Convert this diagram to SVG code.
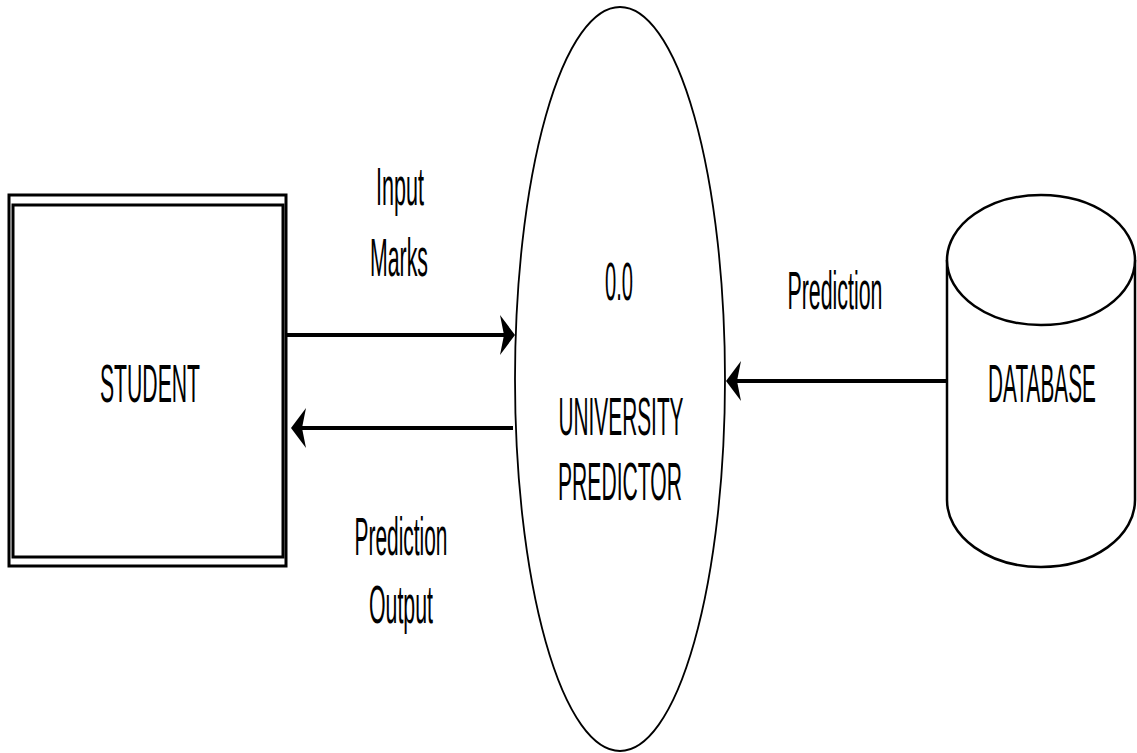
<svg xmlns="http://www.w3.org/2000/svg" width="1137" height="753" viewBox="0 0 1137 753">
<style>
text{font-family:"Liberation Sans",Arial,sans-serif;font-size:54px;fill:#000;text-anchor:middle}
.flow{stroke:#000;stroke-width:4;fill:none}
.shape{fill:#fff;stroke:#000}
</style>
<defs>
<marker id="arr" markerUnits="userSpaceOnUse" markerWidth="16" markerHeight="42" refX="4" refY="20" orient="auto" viewBox="0 0 16 40">
<path d="M15,20 L0,0 L4,20 L0,40 Z" fill="#000"/>
</marker>
</defs>
<rect width="1137" height="753" fill="#fff"/>
<g id="student">
<rect class="shape" x="9" y="195" width="277" height="371" stroke-width="3"/>
<rect class="shape" x="13" y="205" width="270" height="352" stroke-width="3"/>
<text x="150" y="402" textLength="100" lengthAdjust="spacingAndGlyphs">STUDENT</text>
</g>
<g id="process">
<ellipse class="shape" cx="620" cy="379" rx="105" ry="372" stroke-width="1.8"/>
<text x="619" y="300" textLength="28" lengthAdjust="spacingAndGlyphs">0.0</text>
<text x="621" y="435" textLength="125" lengthAdjust="spacingAndGlyphs">UNIVERSITY</text>
<text x="620" y="500" textLength="124" lengthAdjust="spacingAndGlyphs">PREDICTOR</text>
</g>
<g id="database">
<path class="shape" d="M947,260 L947,500 A94,67 0 0 0 1135,500 L1135,260" stroke-width="2.5"/>
<ellipse class="shape" cx="1041" cy="260" rx="94" ry="65" stroke-width="2.5"/>
<text transform="translate(1042,402) scale(0.385,1)" x="0" y="0">DATABASE</text>
</g>
<g id="connectors">
<line class="flow" x1="287" y1="335" x2="504" y2="335" marker-end="url(#arr)"/>
<line class="flow" x1="513" y1="428" x2="302" y2="428" marker-end="url(#arr)"/>
<line class="flow" x1="947" y1="381" x2="737" y2="381" marker-end="url(#arr)"/>
<text x="400" y="205" textLength="48" lengthAdjust="spacingAndGlyphs">Input</text>
<text x="399" y="276" textLength="58" lengthAdjust="spacingAndGlyphs">Marks</text>
<text x="401" y="555" textLength="93" lengthAdjust="spacingAndGlyphs">Prediction</text>
<text x="401" y="623" textLength="64" lengthAdjust="spacingAndGlyphs">Output</text>
<text x="835" y="309" textLength="95" lengthAdjust="spacingAndGlyphs">Prediction</text>
</g>
</svg>
